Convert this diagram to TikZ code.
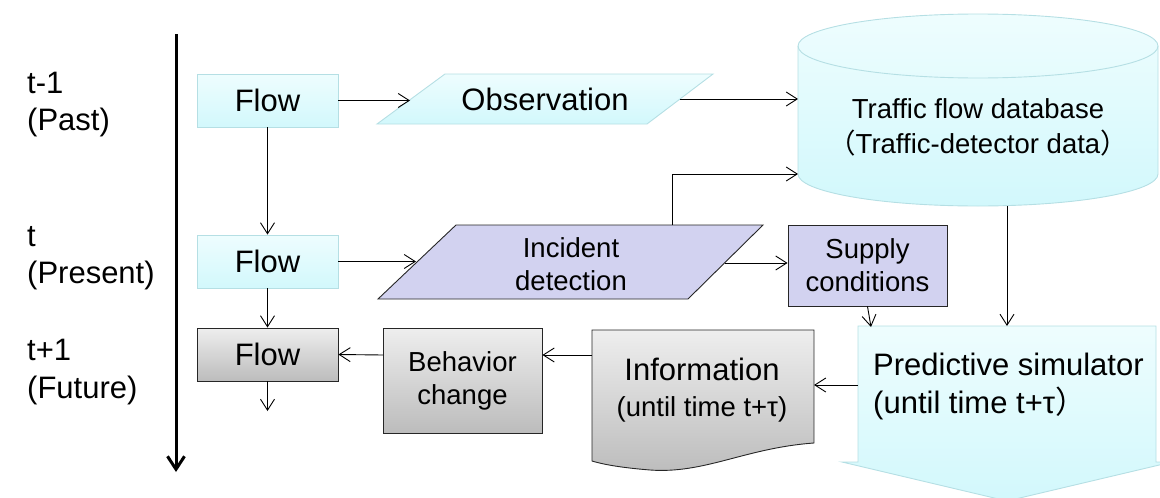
\documentclass[tikz,border=0pt]{standalone}
\usepackage{fontspec}
\setmainfont{Liberation Sans}
\newfontfamily\cjk{Noto Sans CJK JP}
\usetikzlibrary{arrows.meta}
\definecolor{cyT}{HTML}{EEFDFE}
\definecolor{cyM}{HTML}{D2F8FC}
\definecolor{cyB}{HTML}{B5DFE4}
\definecolor{pu}{HTML}{D2D2F0}
\definecolor{grT}{HTML}{EEEEEE}
\definecolor{grM}{HTML}{BCBCBC}
\definecolor{dk}{HTML}{262626}
\begin{document}
\begin{tikzpicture}[x=1pt,y=-1pt,
  bigf/.style={font=\fontsize{31}{37}\selectfont},
  smallf/.style={font=\fontsize{27.5}{33}\selectfont},
  cyshape/.style={draw=cyB, top color=cyT, bottom color=cyM, line width=0.9pt},
  pushape/.style={draw=dk, fill=pu, line width=0.9pt},
  grshape/.style={draw=dk, top color=grT, bottom color=grM, line width=0.9pt},
  lbl/.style={bigf, anchor=base west, inner sep=0pt},
  conn/.style={line width=0.9pt, -{Straight Barb[length=11pt,width=14pt]}},
  timeax/.style={line width=3pt, -{Straight Barb[length=13pt,width=17pt]}}
]
\useasboundingbox (0,0) rectangle (1160,498);
\clip (0,0) rectangle (1160,498);

% time labels
\node[lbl] (t1a) at (27,93) {t-1};
\node[lbl] (t1b) at (27,130) {(Past)};
\node[lbl] (t0a) at (27,246) {t};
\node[lbl] (t0b) at (27,283) {(Present)};
\node[lbl] (t2a) at (27,360) {t+1};
\node[lbl] (t2b) at (27,398) {(Future)};

% flow boxes
\node[cyshape, bigf, minimum width=141pt, minimum height=53pt, inner sep=0pt] (f1) at (267.5,100.5) {Flow};
\node[cyshape, bigf, minimum width=141pt, minimum height=53pt, inner sep=0pt] (f2) at (267.5,261.5) {Flow};
\node[grshape, bigf, minimum width=141pt, minimum height=53pt, inner sep=0pt] (f3) at (267.5,354.5) {Flow};

% observation
\path[cyshape] (445,74) -- (713,74) -- (647,124) -- (377,124) -- cycle;
\node[bigf] (obs) at (545,99) {Observation};
\coordinate (obsL) at (410,100.5);
\coordinate (obsR) at (680,99);

% database cylinder
\path[cyshape] (798,174) arc[start angle=180, end angle=360, x radius=180pt, y radius=32pt]
  -- (1158,46) arc[start angle=0, end angle=180, x radius=180pt, y radius=32pt] -- cycle;
\draw[cyB, line width=0.9pt] (798,46) arc[start angle=180, end angle=360, x radius=180pt, y radius=32pt];
\node[align=center, font=\fontsize{27.5}{35}\selectfont] (db) at (978,127.5)
  {Traffic flow database\\{\cjk （}Traffic-detector data{\cjk ）}};
\coordinate (dbL1) at (798,99);
\coordinate (dbL2) at (798,174);
\coordinate (dbB) at (1007,206);

% incident detection
\path[pushape] (456,225) -- (763,225) -- (688,299) -- (378,299) -- cycle;
\node[smallf, align=center] (inc) at (571,264) {Incident\\detection};
\coordinate (incL) at (416,261.5);
\coordinate (incT) at (672,225);
\coordinate (incR) at (725,263);

% supply conditions
\node[pushape, smallf, align=center, minimum width=159pt, minimum height=81pt, inner sep=0pt] (sup) at (867.5,265.5) {Supply\\conditions};

% predictive simulator
\path[cyshape] (858,326) -- (1156,326) -- (1156,462) -- (1172,462) -- (1007,501) -- (842,462) -- (858,462) -- cycle;
\node[align=left, anchor=west, inner sep=0pt, font=\fontsize{31}{38}\selectfont] (pred) at (873,386)
  {Predictive simulator\\(until time t+τ{\cjk ）}};
\coordinate (predT1) at (871,327);
\coordinate (predT2) at (1007,326);
\coordinate (predL) at (858,385);

% information document
\path[grshape] (592,330) -- (814,330) -- (814,443)
  .. controls (745,448) and (705,474) .. (650,470)
  .. controls (625,468) and (605,465) .. (592,461) -- cycle;
\node[align=center, font=\fontsize{27.5}{36}\selectfont] (info) at (702,390)
  {{\fontsize{31}{36}\selectfont Information}\\(until time t+τ)};
\coordinate (infoR) at (814,385);
\coordinate (infoL) at (592,355);

% behavior change
\node[grshape, smallf, align=center, minimum width=159pt, minimum height=105pt, inner sep=0pt] (beh) at (462.5,380.5) {Behavior\\change};
\coordinate (behL) at (383,355);

% free ends
\coordinate (f3end) at (267.5,411);
\coordinate (ta) at (176,34);
\coordinate (tb) at (176,472);

% connectors
\draw[conn] (f1.east) -- (obsL);
\draw[conn] (obsR) -- (dbL1);
\draw[conn] (f1) -- (f2);
\draw[conn] (f2.east) -- (incL);
\draw[conn] (incT) |- (dbL2);
\draw[conn] (incR) -- (incR -| sup.west);
\draw[conn] (sup.south) -- (predT1);
\draw[conn] (dbB) -- (predT2);
\draw[conn] (predL) -- (infoR);
\draw[conn] (infoL) -- (infoL -| beh.east);
\draw[conn] (behL) -- (f3.east);
\draw[conn] (f2) -- (f3);
\draw[conn] (f3.south) -- (f3end);
\draw[timeax] (ta) -- (tb);
\end{tikzpicture}
\end{document}
